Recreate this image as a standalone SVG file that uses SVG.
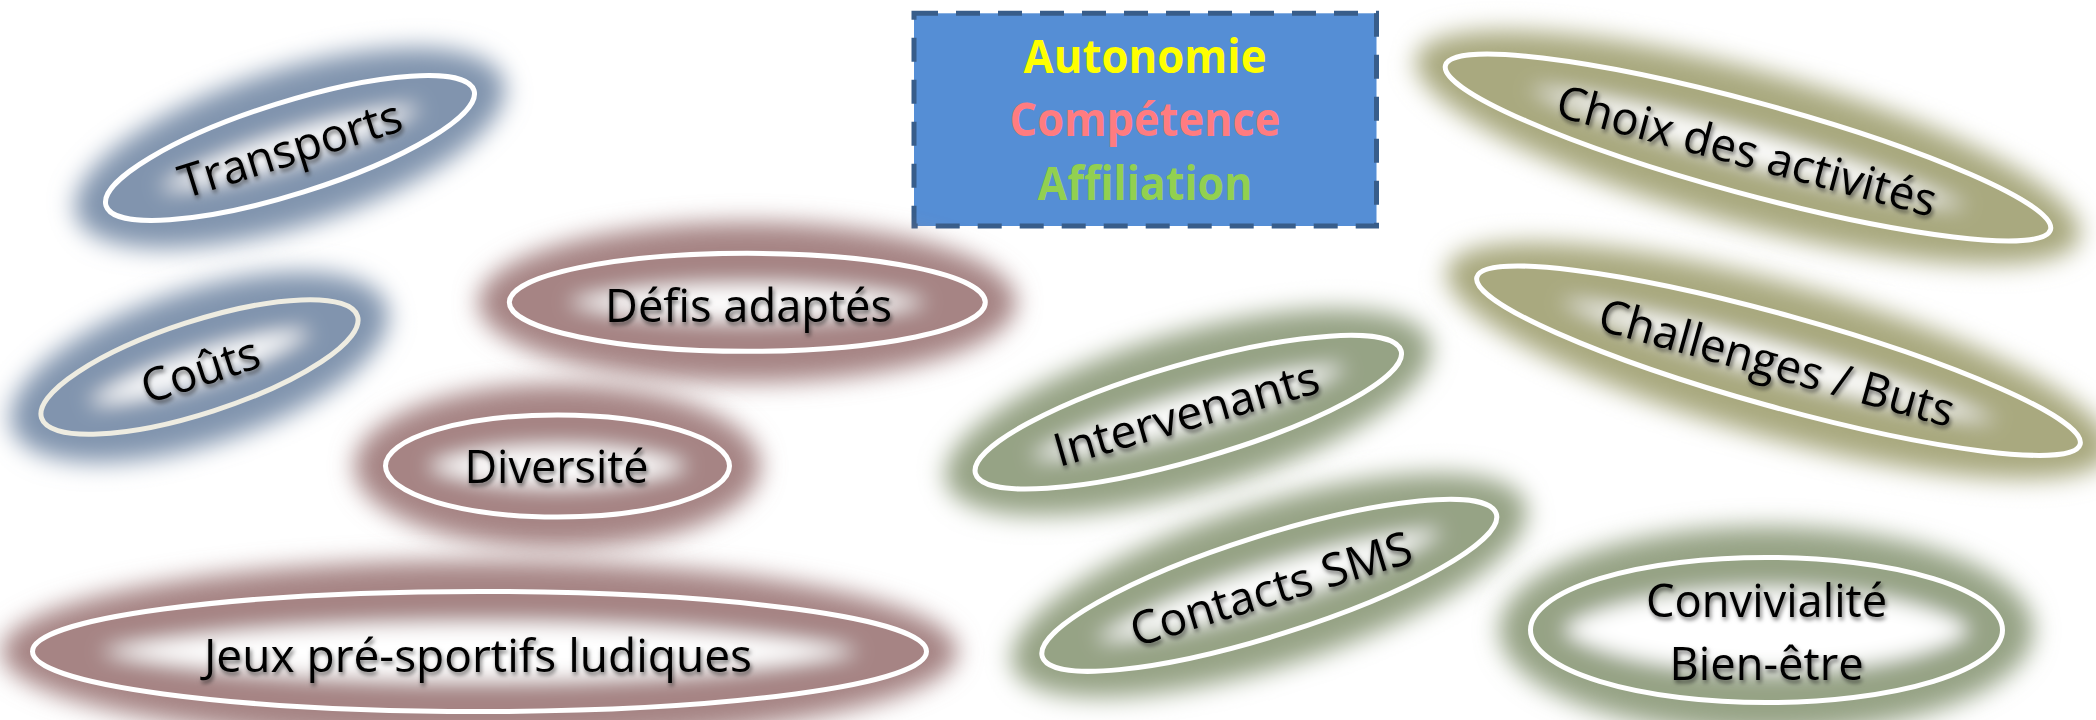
<svg xmlns="http://www.w3.org/2000/svg" width="2096" height="720" viewBox="0 0 2096 720">
<defs>
  <style>
    .lbl { font-family: "Open Sans", "Noto Sans", "Liberation Sans", sans-serif; font-size: 46px; fill: #000; text-anchor: middle; }
    .key { font-family: "Open Sans", "Noto Sans", "Liberation Sans", sans-serif; font-size: 46px; font-weight: bold; text-anchor: middle; }
    .ring { fill: none; stroke: #ffffff; stroke-width: 5; }
    .ring.cream { stroke: #EEECE1; }
    .blue { fill: #8194AE; stroke: #8194AE; }
    .red { fill: #A68484; stroke: #A68484; }
    .olive { fill: #A9A97F; stroke: #A9A97F; }
    .sage { fill: #96A385; stroke: #96A385; }
    .glow { stroke: none; filter: url(#glowblur); }
    .inner { stroke-width: 62; filter: url(#innerblur); }
  </style>
  <filter id="glowblur" x="-50%" y="-120%" width="200%" height="340%">
    <feGaussianBlur stdDeviation="12"/>
  </filter>
  <filter id="innerblur" x="-50%" y="-120%" width="200%" height="340%">
    <feGaussianBlur stdDeviation="10"/>
  </filter>
  <filter id="ts" x="-10%" y="-30%" width="120%" height="160%">
    <feDropShadow dx="1.5" dy="3" stdDeviation="2" flood-color="#000" flood-opacity="0.55"/>
  </filter>
  <clipPath id="ec" clipPathUnits="objectBoundingBox">
    <ellipse cx="0.5" cy="0.5" rx="0.5" ry="0.5"/>
  </clipPath>
</defs>
<rect width="2096" height="720" fill="#ffffff"/>

<g id="connectors"></g>

<!-- Key box -->
<g id="n-key">
  <rect x="914" y="13.3" width="462.5" height="212.7" fill="#558ED5" stroke="#385D8A" stroke-width="5" stroke-dasharray="24 18"/>
  <text class="key" x="1145" y="72.7" fill="#FFFF00" textLength="243" lengthAdjust="spacingAndGlyphs">Autonomie</text>
  <text class="key" x="1145" y="136" fill="#FF7C80" textLength="271" lengthAdjust="spacingAndGlyphs">Compétence</text>
  <text class="key" x="1145" y="200" fill="#92D050" textLength="215" lengthAdjust="spacingAndGlyphs">Affiliation</text>
</g>

<!-- Transports -->
<g id="n-transports">
  <g transform="translate(290 148) rotate(-17.4)">
    <ellipse class="glow blue" rx="224" ry="78"/>
    <g clip-path="url(#ec)"><ellipse class="inner blue" rx="192.8" ry="46" style="fill:#fff"/></g>
    <ellipse class="ring" rx="192.8" ry="46"/>
  </g>
  <g filter="url(#ts)"><text class="lbl" transform="translate(290 148) rotate(-17.4)" y="17" textLength="231" lengthAdjust="spacingAndGlyphs">Transports</text></g>
</g>

<!-- Coûts -->
<g id="n-couts">
  <g transform="translate(199.5 367) rotate(-17.9)">
    <ellipse class="glow blue" rx="197" ry="77"/>
    <g clip-path="url(#ec)"><ellipse class="inner blue" rx="166" ry="46" style="fill:#fff"/></g>
    <ellipse class="ring cream" rx="166" ry="46"/>
  </g>
  <g filter="url(#ts)"><text class="lbl" transform="translate(200 369) rotate(-18)" y="17" textLength="122" lengthAdjust="spacingAndGlyphs">Coûts</text></g>
</g>

<!-- Défis adaptés -->
<g id="n-defis">
  <g transform="translate(747.3 302.3)">
    <ellipse class="glow red" rx="269" ry="80"/>
    <g clip-path="url(#ec)"><ellipse class="inner red" rx="238" ry="49" style="fill:#fff"/></g>
    <ellipse class="ring" rx="238" ry="49"/>
  </g>
  <g filter="url(#ts)"><text class="lbl" x="748.6" y="322" textLength="287" lengthAdjust="spacingAndGlyphs">Défis adaptés</text></g>
</g>

<!-- Diversité -->
<g id="n-diversite">
  <g transform="translate(557.5 466)">
    <ellipse class="glow red" rx="203" ry="82"/>
    <g clip-path="url(#ec)"><ellipse class="inner red" rx="172" ry="51" style="fill:#fff"/></g>
    <ellipse class="ring" rx="172" ry="51"/>
  </g>
  <g filter="url(#ts)"><text class="lbl" x="556.5" y="483.3" textLength="184" lengthAdjust="spacingAndGlyphs">Diversité</text></g>
</g>

<!-- Jeux pré-sportifs ludiques -->
<g id="n-jeux">
  <g transform="translate(479.5 651.5)">
    <ellipse class="glow red" rx="478" ry="91"/>
    <g clip-path="url(#ec)"><ellipse class="inner red" rx="447" ry="60" style="fill:#fff"/></g>
    <ellipse class="ring" rx="447" ry="60"/>
  </g>
  <g filter="url(#ts)"><text class="lbl" x="478" y="672" textLength="548" lengthAdjust="spacingAndGlyphs">Jeux pré-sportifs ludiques</text></g>
</g>

<!-- Choix des activités -->
<g id="n-choix">
  <g transform="translate(1748 147.5) rotate(15.2)">
    <ellipse class="glow olive" rx="344" ry="77"/>
    <g clip-path="url(#ec)"><ellipse class="inner olive" rx="313.5" ry="46" style="fill:#fff"/></g>
    <ellipse class="ring" rx="313.5" ry="46"/>
  </g>
  <g filter="url(#ts)"><text class="lbl" transform="translate(1747 150) rotate(15)" y="17" textLength="391" lengthAdjust="spacingAndGlyphs">Choix des activités</text></g>
</g>

<!-- Challenges / Buts -->
<g id="n-challenges">
  <g transform="translate(1778.5 360.7) rotate(15.5)">
    <ellipse class="glow olive" rx="344" ry="77"/>
    <g clip-path="url(#ec)"><ellipse class="inner olive" rx="313" ry="46" style="fill:#fff"/></g>
    <ellipse class="ring" rx="313" ry="46"/>
  </g>
  <g filter="url(#ts)"><text class="lbl" transform="translate(1777 362) rotate(15.5)" y="17" textLength="367" lengthAdjust="spacingAndGlyphs">Challenges / Buts</text></g>
</g>

<!-- Intervenants -->
<g id="n-intervenants">
  <g transform="translate(1188.3 412.2) rotate(-16.1)">
    <ellipse class="glow sage" rx="252" ry="79"/>
    <g clip-path="url(#ec)"><ellipse class="inner sage" rx="221.5" ry="48" style="fill:#fff"/></g>
    <ellipse class="ring" rx="221.5" ry="48"/>
  </g>
  <g filter="url(#ts)"><text class="lbl" transform="translate(1186 413) rotate(-16)" y="17" textLength="274" lengthAdjust="spacingAndGlyphs">Intervenants</text></g>
</g>

<!-- Contacts SMS -->
<g id="n-contacts">
  <g transform="translate(1269.3 585.3) rotate(-17.5)">
    <ellipse class="glow sage" rx="269" ry="81"/>
    <g clip-path="url(#ec)"><ellipse class="inner sage" rx="238" ry="50" style="fill:#fff"/></g>
    <ellipse class="ring" rx="238" ry="50"/>
  </g>
  <g filter="url(#ts)"><text class="lbl" transform="translate(1270.7 588) rotate(-17)" y="17" textLength="292" lengthAdjust="spacingAndGlyphs">Contacts SMS</text></g>
</g>

<!-- Convivialité Bien-être -->
<g id="n-convivialite">
  <g transform="translate(1766.5 630)">
    <ellipse class="glow sage" rx="267" ry="103.5"/>
    <g clip-path="url(#ec)"><ellipse class="inner sage" rx="236" ry="72.5" style="fill:#fff"/></g>
    <ellipse class="ring" rx="236" ry="72.5"/>
  </g>
  <g filter="url(#ts)">
    <text class="lbl" x="1766.6" y="617" textLength="241" lengthAdjust="spacingAndGlyphs">Convivialité</text>
    <text class="lbl" x="1766.6" y="680" textLength="194" lengthAdjust="spacingAndGlyphs">Bien-être</text>
  </g>
</g>
</svg>
